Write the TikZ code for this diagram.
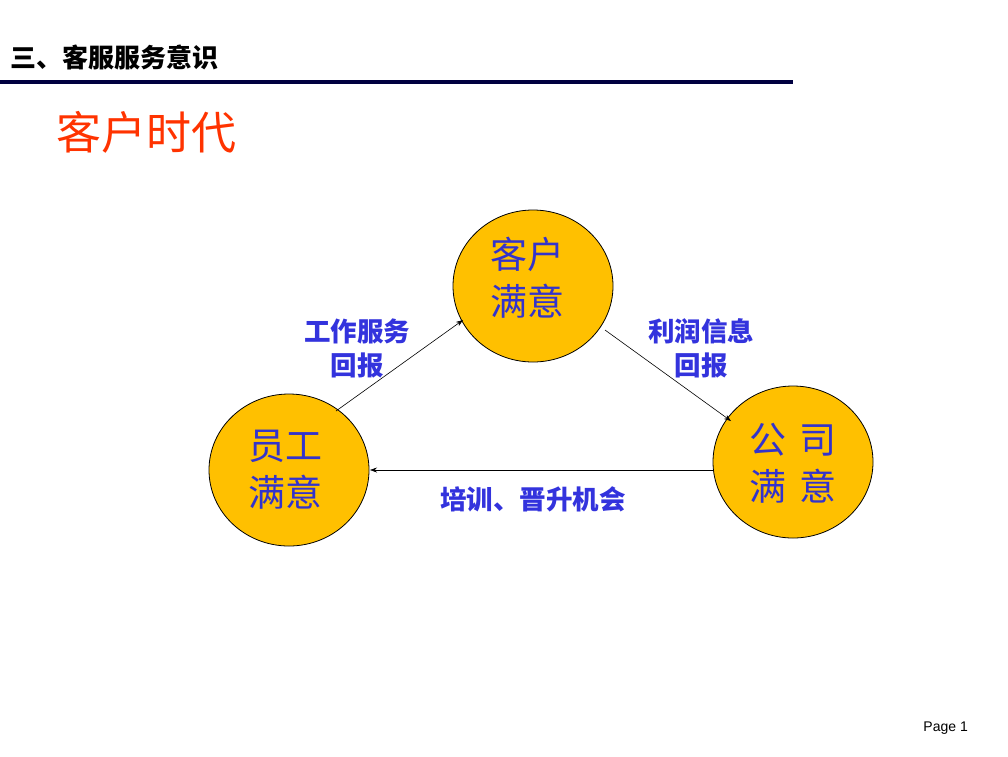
\documentclass[tikz,border=0pt]{standalone}
\usepackage{fontspec}
\setmainfont{Liberation Sans}
\newfontfamily\cjk{Noto Sans CJK SC}
\usetikzlibrary{arrows.meta,shapes.geometric}
\definecolor{circfill}{HTML}{FFC000}
\definecolor{circtext}{HTML}{3333CC}
\definecolor{lbltext}{HTML}{3333DD}
\definecolor{titlered}{HTML}{FF3300}
\definecolor{barblue}{HTML}{000040}
\tikzset{
  bubble/.style={ellipse, draw=black, line width=0.8pt, fill=circfill, minimum width=160pt, minimum height=152pt, inner sep=0pt},
  bubtext/.style={font=\cjk\fontsize{37}{47}\selectfont, text=circtext, align=center, inner sep=0pt},
  lbl/.style={font=\cjk\bfseries\fontsize{26.5}{34}\selectfont, text=lbltext, align=center, inner sep=0pt},
  conn/.style={draw=black, line width=0.6pt, -{Stealth[length=7pt,width=5pt]}}
}
\begin{document}
\begin{tikzpicture}[x=1pt,y=-1pt]
\useasboundingbox (0,0) rectangle (1008,756);
\node[anchor=west, font=\cjk\bfseries\fontsize{26}{30}\selectfont, inner sep=0pt] (title) at (10,57) {三、客服服务意识};
\fill[barblue] (0,80) rectangle (793,84);
\node[anchor=west, font=\cjk\fontsize{45}{52}\selectfont, text=titlered, inner sep=0pt] (sub) at (56,132) {客户时代};
\node[bubble] (top) at (533,286) {};
\node[bubble] (left) at (289,470) {};
\node[bubble] (right) at (793,462) {};
\node[bubtext] (toptxt) at (527,278) {客户\\满意};
\node[bubtext] (lefttxt) at (285,470) {员工\\满意};
\node[bubtext] (righttxt) at (793,463) {公\,\,司\\满\,\,意};
\coordinate (a1s) at (336,411);
\coordinate (a1e) at (463,320);
\coordinate (a2s) at (605,330);
\coordinate (a2e) at (731,421);
\coordinate (a3s) at (713,470);
\coordinate (a3e) at (370,470);
\draw[conn] (a1s) -- (a1e);
\draw[conn] (a2s) -- (a2e);
\draw[conn] (a3s) -- (a3e);
\node[lbl] (l1) at (357,348) {工作服务\\回报};
\node[lbl] (l2) at (701,348) {利润信息\\回报};
\node[lbl] (l3) at (533,499) {培训、晋升机会};
\node[anchor=east, font=\fontsize{14}{16}\selectfont, inner sep=0pt] (page) at (968,728) {Page 1};
\end{tikzpicture}
\end{document}
